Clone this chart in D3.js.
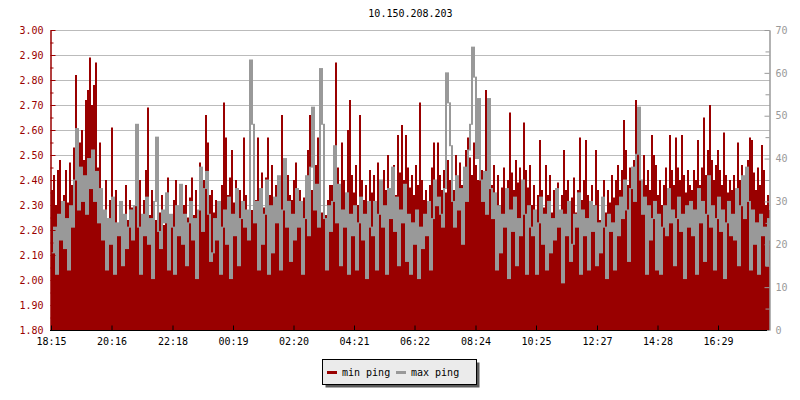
<!DOCTYPE html>
<html>
<head>
<meta charset="utf-8">
<script src="https://cdn.jsdelivr.net/npm/d3@7"></script>
<style>
  body { margin: 0; background: #fff; }
  text { font-family: "DejaVu Sans Mono", monospace; font-size: 10px; }
</style>
</head>
<body>
<svg id="chart" width="800" height="400"></svg>
<script>
// one sample every 4 minutes, starting 18:15
var stepMinutes = 4;
var title = "10.150.208.203";
var seriesNames = ["min ping", "max ping"];
var timeLabels = ["18:15", "20:16", "22:18", "00:19", "02:20", "04:21",
                  "06:22", "08:24", "10:25", "12:27", "14:28", "16:29"];

// min ping, left axis
var minPing = [
  2.36,2.42,2.30,2.44,2.48,2.28,2.34,2.44,2.31,2.47,2.38,2.53,2.82,2.60,2.55,2.60,2.48,2.72,2.76,2.89,
  2.70,2.78,2.87,2.45,2.55,2.34,2.26,2.40,2.22,2.32,2.61,2.28,2.36,2.21,2.31,2.12,2.26,2.38,2.24,2.32,
  2.29,2.21,2.34,2.27,2.40,2.23,2.32,2.44,2.69,2.26,2.36,2.30,2.24,2.38,2.27,2.34,2.22,2.31,2.41,2.26,
  2.24,2.32,2.40,2.26,2.34,2.21,2.30,2.38,2.25,2.33,2.41,2.26,2.36,2.24,2.47,2.31,2.40,2.66,2.55,2.34,
  2.36,2.27,2.32,2.23,2.29,2.38,2.71,2.57,2.34,2.41,2.52,2.31,2.40,2.24,2.36,2.29,2.57,2.34,2.26,2.39,
  2.28,2.40,2.32,2.57,2.36,2.43,2.29,2.41,2.57,2.34,2.46,2.27,2.38,2.32,2.41,2.66,2.36,2.30,2.42,2.34,
  2.32,2.40,2.47,2.29,2.36,2.24,2.33,2.41,2.52,2.66,2.36,2.30,2.46,2.57,2.34,2.27,2.40,2.26,2.32,2.38,
  2.38,2.52,2.87,2.45,2.36,2.55,2.40,2.33,2.60,2.72,2.42,2.35,2.46,2.30,2.66,2.40,2.32,2.38,2.27,2.44,
  2.35,2.42,2.30,2.47,2.38,2.28,2.44,2.36,2.50,2.31,2.40,2.46,2.34,2.58,2.43,2.62,2.40,2.58,2.45,2.37,
  2.42,2.34,2.46,2.38,2.71,2.40,2.32,2.36,2.28,2.38,2.45,2.55,2.40,2.55,2.42,2.36,2.44,2.35,2.48,2.40,
  2.45,2.36,2.50,2.40,2.47,2.38,2.44,2.52,2.57,2.49,2.42,2.55,2.46,2.40,2.52,2.44,2.38,2.76,2.50,2.42,
  2.38,2.46,2.33,2.42,2.30,2.37,2.45,2.34,2.40,2.67,2.43,2.36,2.48,2.39,2.45,2.35,2.63,2.44,2.37,2.46,
  2.30,2.38,2.26,2.34,2.56,2.36,2.29,2.46,2.34,2.42,2.27,2.36,2.31,2.39,2.26,2.34,2.52,2.36,2.40,2.29,
  2.33,2.41,2.27,2.36,2.57,2.32,2.40,2.56,2.34,2.26,2.38,2.30,2.52,2.36,2.24,2.32,2.40,2.27,2.36,2.31,
  2.42,2.33,2.40,2.46,2.36,2.44,2.64,2.52,2.38,2.45,2.40,2.48,2.72,2.59,2.46,2.40,2.50,2.38,2.44,2.36,
  2.58,2.50,2.46,2.34,2.40,2.30,2.38,2.45,2.36,2.58,2.44,2.38,2.57,2.45,2.40,2.58,2.42,2.35,2.44,2.38,
  2.36,2.44,2.40,2.56,2.38,2.45,2.65,2.42,2.52,2.70,2.48,2.40,2.46,2.52,2.44,2.38,2.59,2.42,2.35,2.40,
  2.36,2.42,2.33,2.55,2.40,2.46,2.35,2.41,2.48,2.57,2.56,2.43,2.36,2.45,2.38,2.54,2.44,2.30,2.34,2.28
];

// max ping, right axis
var maxPing = [
  18,24,13,27,21,30,19,26,14,29,24,35,47,28,38,30,36,27,40,33,
  42,30,37,25,33,21,28,14,26,20,31,13,25,22,30,15,27,19,24,28,
  21,29,48,24,13,27,22,31,20,26,12,30,45,23,19,28,25,32,14,27,
  24,13,29,22,34,20,27,15,25,30,21,26,12,28,38,23,33,37,27,16,
  18,26,21,30,13,24,28,20,31,12,27,22,33,15,26,30,24,28,21,63,
  48,25,30,14,33,20,27,35,13,29,18,31,25,36,14,28,40,24,30,16,
  27,21,33,24,30,13,26,36,22,38,52,28,34,24,61,48,26,14,29,23,
  30,43,25,34,15,28,24,32,13,27,22,29,14,25,31,21,27,12,30,24,
  22,30,14,27,35,24,29,13,33,26,38,23,31,15,28,25,34,16,27,13,
  25,20,28,12,24,19,27,22,30,14,26,35,29,31,27,24,33,60,53,43,
  30,24,36,28,33,20,38,30,42,48,66,59,40,54,35,30,37,27,54,33,
  26,32,14,29,18,27,24,33,12,28,23,31,15,26,22,35,27,13,29,24,
  22,28,13,25,31,20,27,14,30,18,26,21,33,24,28,11,27,22,30,16,
  20,27,24,32,13,28,22,26,14,30,23,29,15,25,18,31,24,12,27,23,
  25,14,29,22,31,26,35,28,16,33,38,30,41,52,35,27,31,13,29,21,
  26,30,14,27,13,24,29,22,33,25,28,15,26,31,23,27,12,29,24,30,
  22,28,13,33,25,30,16,27,36,24,29,14,26,31,23,28,12,25,30,22,
  27,21,33,15,29,36,26,38,30,14,28,20,25,13,27,22,24,15,26,21
];

var red = "#990000", grey = "#999999";
var plotLeft = 51, plotRight = 770, plotTop = 30, plotBottom = 330;

var svg = d3.select("#chart");

// minutes from the first label, wrapping past midnight
function labelMinutes(s) {
  var p = s.split(":"), q = timeLabels[0].split(":");
  var m = (+p[0] * 60 + +p[1]) - (+q[0] * 60 + +q[1]);
  return m < 0 ? m + 1440 : m;
}

var x = d3.scaleLinear().domain([0, 1438]).range([plotLeft, plotRight]);
var yL = d3.scaleLinear().domain([1.8, 3.0]).range([plotBottom, plotTop]);
var yR = d3.scaleLinear().domain([0, 70]).range([plotBottom, plotTop]);

function points(arr) {
  var pts = arr.map(function(v, i) { return { t: i * stepMinutes, v: v }; });
  pts.push({ t: arr.length * stepMinutes, v: arr[arr.length - 1] });
  return pts;
}

svg.append("defs").append("clipPath").attr("id", "plot")
  .append("rect").attr("x", plotLeft).attr("y", plotTop)
  .attr("width", plotRight - plotLeft).attr("height", plotBottom - plotTop);

svg.append("text")
  .attr("x", (plotLeft + plotRight) / 2).attr("y", 17)
  .attr("text-anchor", "middle").attr("fill", "#000")
  .text(title);

// grid
svg.append("g").selectAll("line")
  .data(d3.range(19, 31).map(function(d) { return d / 10; }))
  .enter().append("line")
    .attr("x1", plotLeft).attr("x2", plotRight)
    .attr("y1", function(d) { return Math.round(yL(d)) + 0.5; })
    .attr("y2", function(d) { return Math.round(yL(d)) + 0.5; })
    .attr("stroke", "#bbbbbb");

var plot = svg.append("g").attr("clip-path", "url(#plot)");

plot.append("path")
  .datum(points(minPing))
  .attr("fill", red)
  .attr("d", d3.area()
    .curve(d3.curveStepAfter)
    .x(function(d) { return x(d.t); })
    .y0(plotBottom)
    .y1(function(d) { return yL(d.v); }));

// max ping: each column spans the jump from the previous sample
plot.append("g").selectAll("rect")
  .data(maxPing)
  .enter().append("rect")
    .attr("x", function(d, i) { return x(i * stepMinutes); })
    .attr("width", function(d, i) { return x((i + 1) * stepMinutes) - x(i * stepMinutes); })
    .attr("y", function(d, i) {
      var p = i > 0 ? maxPing[i - 1] : d;
      return yR(Math.max(p, d)) - 0.5;
    })
    .attr("height", function(d, i) {
      var p = i > 0 ? maxPing[i - 1] : d;
      return Math.abs(yR(p) - yR(d)) + 1;
    })
    .attr("fill", grey);

// left axis
var gL = svg.append("g").attr("transform", "translate(50.5,0)");
gL.call(d3.axisLeft(yL).tickValues(d3.range(18, 31).map(function(d) { return d / 10; }))
  .tickFormat(d3.format(".2f")).tickSizeInner(-5).tickSizeOuter(0).tickPadding(7));
gL.append("g").call(d3.axisLeft(yL).tickValues(d3.range(18, 30).map(function(d) { return d / 10 + 0.05; }))
  .tickFormat("").tickSizeInner(-3).tickSizeOuter(0));
gL.selectAll("path, line").attr("stroke", red);
gL.selectAll("text").attr("fill", red).style("font-size", "10px")
  .style("font-family", "DejaVu Sans Mono, monospace");

// right axis
var gR = svg.append("g").attr("transform", "translate(769.5,0)");
gR.call(d3.axisRight(yR).tickValues(d3.range(0, 71, 10))
  .tickSizeInner(-5).tickSizeOuter(0).tickPadding(6));
gR.append("g").call(d3.axisRight(yR).tickValues(d3.range(5, 70, 10))
  .tickFormat("").tickSizeInner(-4).tickSizeOuter(0));
gR.selectAll("path, line").attr("stroke", grey);
gR.selectAll("text").attr("fill", grey).style("font-size", "10px")
  .style("font-family", "DejaVu Sans Mono, monospace");

// time axis
var gB = svg.append("g").attr("transform", "translate(0,330.5)");
gB.call(d3.axisBottom(x).tickValues(timeLabels.map(labelMinutes))
  .tickFormat(function(d, i) { return timeLabels[i]; })
  .tickSizeInner(-5).tickSizeOuter(0).tickPadding(7));
gB.select(".domain").attr("d", "M50,0H767");
gB.selectAll("path, line").attr("stroke", "#000");
gB.selectAll("text").attr("fill", "#000").style("font-size", "10px")
  .style("font-family", "DejaVu Sans Mono, monospace");

// legend
var lg = svg.append("g").attr("transform", "translate(322.5,359.5)");
lg.append("rect").attr("x", 3).attr("y", 3).attr("width", 154).attr("height", 25).attr("fill", "#5a5a5a");
lg.append("rect").attr("width", 154).attr("height", 25).attr("fill", "#ebebeb").attr("stroke", "#000");
var items = lg.selectAll(".item")
  .data(seriesNames)
  .enter().append("g")
    .attr("transform", function(d, i) { return "translate(" + (4.5 + i * 69) + ",0)"; });
items.append("line")
  .attr("x1", 0).attr("x2", 10).attr("y1", 13).attr("y2", 13)
  .attr("stroke-width", 3)
  .attr("stroke", function(d, i) { return i === 0 ? red : grey; });
items.append("text")
  .attr("x", 15).attr("y", 16.5)
  .attr("fill", "#000")
  .text(function(d) { return d; });
</script>
</body>
</html>
